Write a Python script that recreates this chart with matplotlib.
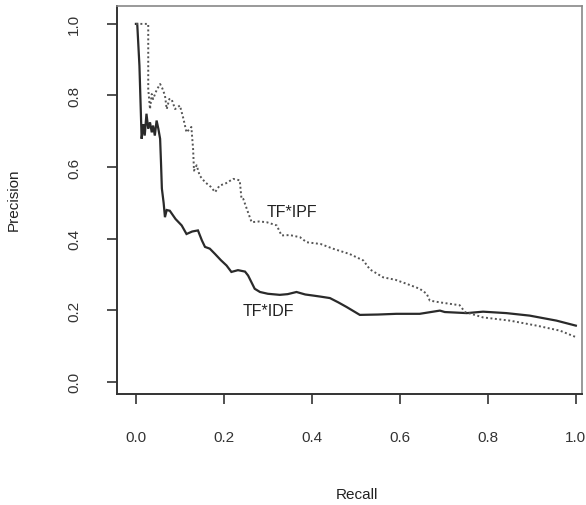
import matplotlib
matplotlib.use("Agg")
import matplotlib.pyplot as plt

# TF*IDF (сплошная линия)
idf_recall = [0.000, 0.003, 0.008, 0.013, 0.017, 0.020, 0.024, 0.028, 0.032, 0.036,
              0.039, 0.043, 0.047, 0.051, 0.055, 0.057, 0.059, 0.063, 0.066, 0.070,
              0.077, 0.090, 0.104, 0.115, 0.128, 0.141, 0.150, 0.157, 0.168, 0.180,
              0.193, 0.206, 0.217, 0.232, 0.248, 0.255, 0.270, 0.282, 0.300, 0.327,
              0.345, 0.365, 0.385, 0.403, 0.420, 0.441, 0.460, 0.479, 0.509, 0.550,
              0.592, 0.645, 0.691, 0.702, 0.752, 0.789, 0.842, 0.895, 0.956, 1.000]
idf_precision = [1.000, 1.000, 0.883, 0.679, 0.720, 0.688, 0.749, 0.707, 0.725, 0.697,
                 0.716, 0.688, 0.730, 0.707, 0.679, 0.613, 0.540, 0.500, 0.460, 0.480,
                 0.478, 0.455, 0.437, 0.413, 0.420, 0.423, 0.395, 0.377, 0.372, 0.357,
                 0.340, 0.325, 0.307, 0.312, 0.308, 0.297, 0.260, 0.251, 0.246, 0.243,
                 0.245, 0.251, 0.244, 0.241, 0.238, 0.234, 0.222, 0.209, 0.187, 0.188,
                 0.190, 0.190, 0.199, 0.195, 0.192, 0.196, 0.192, 0.185, 0.171, 0.157]

# TF*IPF (пунктир)
ipf_recall = [0.000, 0.028, 0.028, 0.032, 0.036, 0.039, 0.047, 0.055, 0.060, 0.066,
              0.070, 0.076, 0.081, 0.089, 0.100, 0.108, 0.115, 0.126, 0.130, 0.132,
              0.138, 0.145, 0.157, 0.170, 0.180, 0.190, 0.205, 0.221, 0.236, 0.240,
              0.244, 0.255, 0.263, 0.280, 0.297, 0.320, 0.331, 0.350, 0.373, 0.388,
              0.420, 0.448, 0.486, 0.517, 0.532, 0.562, 0.590, 0.615, 0.645, 0.661,
              0.668, 0.691, 0.736, 0.748, 0.789, 0.850, 0.911, 0.964, 1.000]
ipf_precision = [1.000, 1.000, 0.818, 0.762, 0.804, 0.790, 0.815, 0.832, 0.820, 0.800,
                 0.762, 0.790, 0.790, 0.762, 0.772, 0.735, 0.697, 0.712, 0.650, 0.590,
                 0.605, 0.576, 0.558, 0.545, 0.530, 0.548, 0.555, 0.567, 0.563, 0.511,
                 0.511, 0.473, 0.446, 0.448, 0.446, 0.437, 0.409, 0.410, 0.404, 0.390,
                 0.385, 0.372, 0.357, 0.339, 0.314, 0.292, 0.285, 0.274, 0.260, 0.246,
                 0.227, 0.222, 0.214, 0.195, 0.180, 0.171, 0.157, 0.143, 0.125]

x_ticks = [0.0, 0.2, 0.4, 0.6, 0.8, 1.0]
y_ticks = [0.0, 0.2, 0.4, 0.6, 0.8, 1.0]

plt.rcParams['font.family'] = ['Liberation Sans', 'DejaVu Sans']

W, H = 586, 506
fig = plt.figure(figsize=(W / 100, H / 100), dpi=100)
ax = fig.add_axes([117 / W, 1 - 395 / H, (582 - 117) / W, (395 - 7) / H])

ax.plot(idf_recall, idf_precision, color='#2a2a2a', lw=1.6, solid_joinstyle='miter')
ax.plot(ipf_recall, ipf_precision, color='#555555', lw=1.4, linestyle=(0, (1, 1.3)))

ax.text(0.355, 0.475, 'TF*IPF', fontsize=11.5, ha='center', va='center', color='#222222')
ax.text(0.30, 0.198, 'TF*IDF', fontsize=11.5, ha='center', va='center', color='#222222')

ax.set_xlim(-0.043, 1.014)
ax.set_ylim(-0.034, 1.05)
ax.set_xticks(x_ticks)
ax.set_yticks(y_ticks)
ax.set_xticklabels([f'{v:.1f}' for v in x_ticks], fontsize=11)
ax.set_yticklabels([f'{v:.1f}' for v in y_ticks], fontsize=11, rotation=90, va='center')
ax.tick_params(direction='out', length=7, width=1.2, colors='#333333')
ax.tick_params(axis='x', pad=19)
ax.tick_params(axis='y', pad=19)

for side in ['left', 'bottom']:
    ax.spines[side].set_color('#333333')
    ax.spines[side].set_linewidth(1.4)
for side in ['top', 'right']:
    ax.spines[side].set_color('#888888')
    ax.spines[side].set_linewidth(1.2)

# подписи осей вынесены вручную, как на скане
fig.text(357 / W, 1 - 495 / H, 'Recall', fontsize=11, ha='center', va='center', color='#222222')
fig.text(14 / W, 1 - 200 / H, 'Precision', fontsize=11, ha='center', va='center',
         rotation=90, color='#222222')

plt.savefig('out.png', dpi=100)
plt.close(fig)
